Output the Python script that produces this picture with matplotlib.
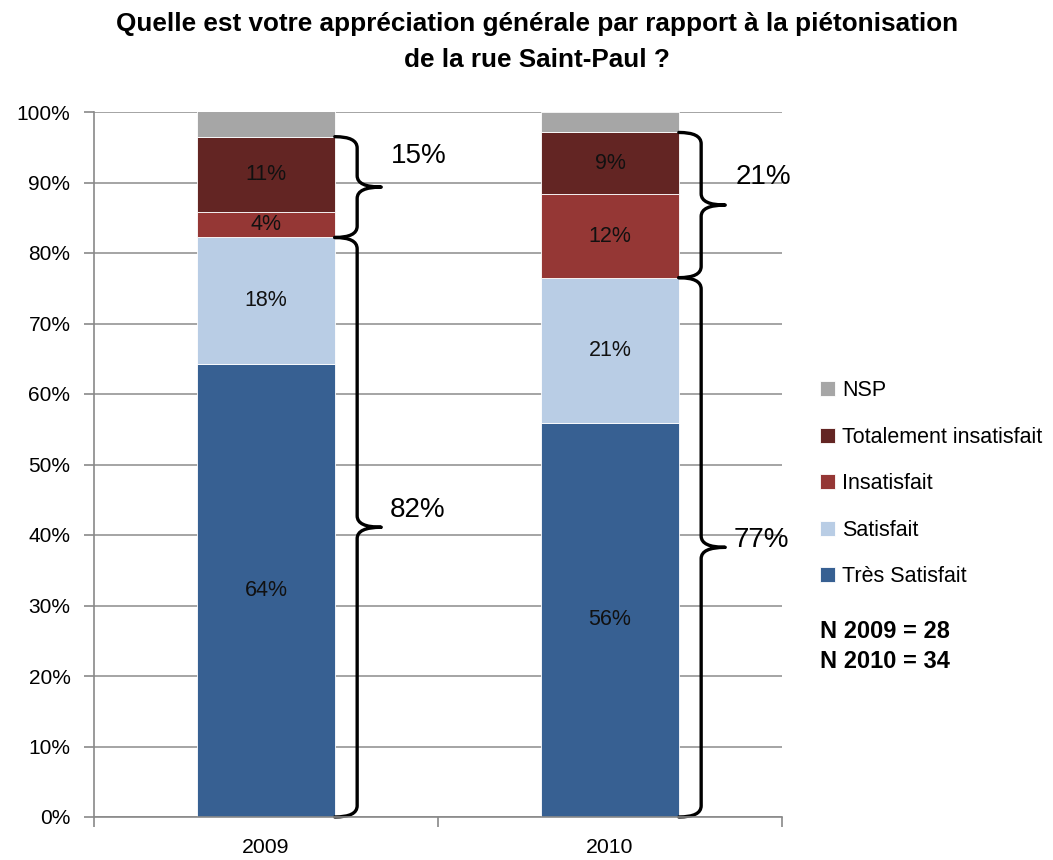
import numpy as np
import matplotlib
matplotlib.use('Agg')
from matplotlib import pyplot as plt
from matplotlib.path import Path
import matplotlib.patches as mpatches

plt.rcParams['font.family'] = ['Liberation Sans', 'DejaVu Sans']

# données
annees = ['2009', '2010']
categories = ['Très Satisfait', 'Satisfait', 'Insatisfait', 'Totalement insatisfait', 'NSP']
tres_satisfait = [64.3, 55.9]
satisfait = [17.9, 20.6]
insatisfait = [3.6, 11.8]
totalement = [10.7, 8.8]
nsp = [3.6, 2.9]
effectifs = [28, 34]
couleurs = ['#376092', '#B9CDE5', '#953735', '#632523', '#A6A6A6']

series = [tres_satisfait, satisfait, insatisfait, totalement, nsp]

fig = plt.figure(figsize=(10.53, 8.6), dpi=100)
ax = fig.add_axes([94/1053, 1-817/860, (782-94)/1053, (817-112)/860])

X = np.arange(len(annees))
width = 0.4
bottom = np.zeros(len(annees))
for i, (vals, c, lab) in enumerate(zip(series, couleurs, categories)):
    vals = np.array(vals)
    ax.bar(X, vals, width, bottom=bottom, color=c, edgecolor='white', linewidth=0.6, label=lab)
    if lab != 'NSP':
        for x, b, v in zip(X, bottom, vals):
            ax.text(x, b + v/2, '%d%%' % round(v), ha='center', va='center', fontsize=15.5, color='#111111')
    bottom += vals


def accolade(x, y0, y1, texte, tx, ty):
    # accolade de y0 à y1 à droite de la barre
    x0, xv, xt = x + 0.2, x + 0.265, x + 0.335
    r = 1.6
    ym = (y0 + y1) / 2
    verts = [(x0, y1), (xv, y1), (xv, y1 - r),
             (xv, ym + r), (xv, ym), (xt, ym),
             (xv, ym), (xv, ym - r),
             (xv, y0 + r), (xv, y0), (x0, y0)]
    codes = [Path.MOVETO, Path.CURVE3, Path.CURVE3,
             Path.LINETO, Path.CURVE3, Path.CURVE3,
             Path.CURVE3, Path.CURVE3,
             Path.LINETO, Path.CURVE3, Path.CURVE3]
    ax.add_patch(mpatches.PathPatch(Path(verts, codes), fill=False, lw=2.4, color='black',
                                    clip_on=False, capstyle='round', joinstyle='round'))
    ax.text(x + tx, ty, texte, ha='center', va='center', fontsize=20)


for i, x in enumerate(X):
    sat = round(tres_satisfait[i]) + round(satisfait[i])
    insat = round(insatisfait[i]) + round(totalement[i])
    y_sat = tres_satisfait[i] + satisfait[i]
    y_insat = y_sat + insatisfait[i] + totalement[i]
    accolade(x, 0, y_sat, '%d%%' % sat, 0.44, y_sat/2 + 2.5 - i*1.5)
    accolade(x, y_sat, y_insat, '%d%%' % insat, 0.445, y_insat - 2.8 - i*3.5)

ax.set_xlim(-0.5, 1.5)
ax.set_ylim(0, 100)
ax.set_yticks(np.arange(0, 101, 10))
ax.set_yticklabels(['%d%%' % v for v in range(0, 101, 10)], fontsize=15)
ax.set_xticks(X)
ax.set_xticklabels(annees, fontsize=15.3)
ax.set_xticks([-0.5, 0.5, 1.5], minor=True)
ax.tick_params(axis='x', which='major', length=0, pad=15)
ax.tick_params(axis='x', which='minor', length=7, color='#898989', width=1.2)
ax.tick_params(axis='y', length=7, color='#898989', width=1.2, pad=10)
ax.yaxis.grid(True, color='#8c8c8c', linewidth=1.1)
ax.set_axisbelow(True)
for s in ['top', 'right']:
    ax.spines[s].set_visible(False)
for s in ['left', 'bottom']:
    ax.spines[s].set_color('#898989')
    ax.spines[s].set_linewidth(1.2)

fig.text(537/1053, 1-42/860,
         'Quelle est votre appréciation générale par rapport à la piétonisation\nde la rue Saint-Paul ?',
         ha='center', va='center', fontsize=18.8, fontweight='bold', linespacing=1.6)

h, l = ax.get_legend_handles_labels()
fig.legend(h[::-1], l[::-1], loc='upper left', bbox_to_anchor=(801/1053, 1-361/860), frameon=False,
           fontsize=15.5, handlelength=0.7, handleheight=0.7, handletextpad=0.3, labelspacing=1.18)

fig.text(820/1053, 1-632/860, 'N 2009 = %d' % effectifs[0], fontsize=17, fontweight='bold', va='center')
fig.text(820/1053, 1-662/860, 'N 2010 = %d' % effectifs[1], fontsize=17, fontweight='bold', va='center')

plt.savefig('out.png', dpi=100)
